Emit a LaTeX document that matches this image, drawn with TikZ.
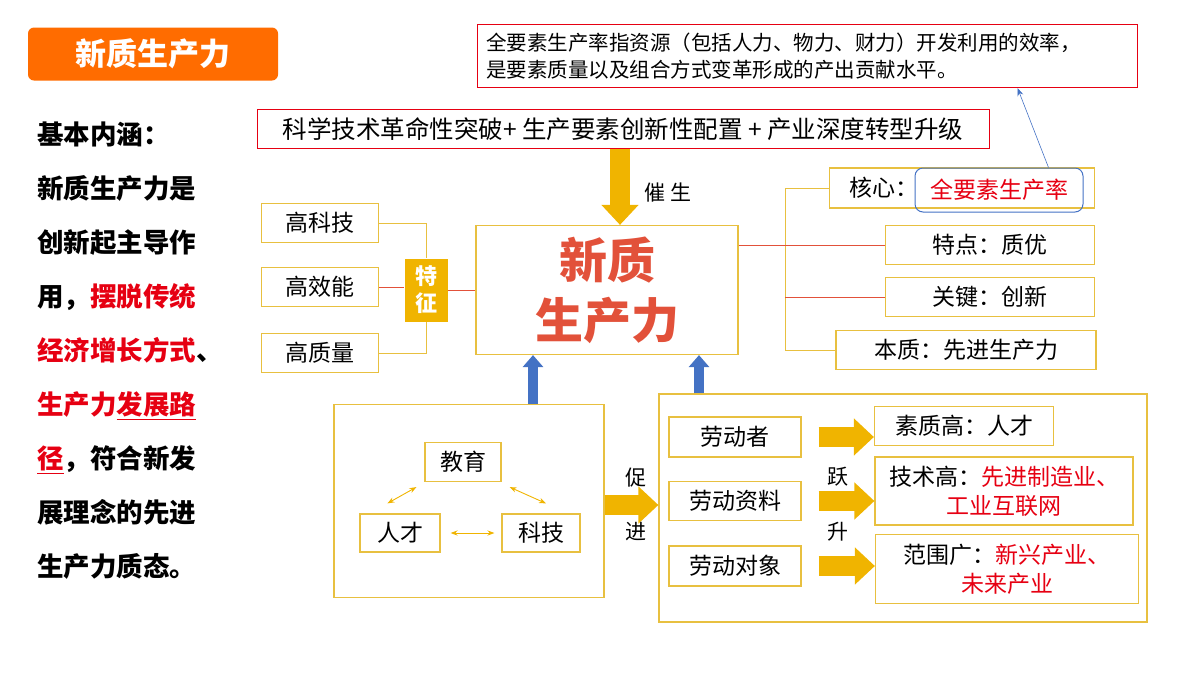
\documentclass[tikz,border=0pt]{standalone}
\usepackage{fontspec}
\setmainfont{Noto Sans CJK SC}
\usetikzlibrary{arrows.meta,positioning}
\definecolor{gold}{HTML}{F0B400}
\definecolor{edge}{HTML}{E8C040}
\definecolor{hot}{HTML}{E60012}
\definecolor{brick}{HTML}{E2513A}
\definecolor{steel}{HTML}{4472C4}
\tikzset{
  ybox/.style={draw=edge, line width=1.2pt, inner sep=0pt, minimum height=39pt, font=\fontsize{23}{27}\selectfont},
  rbox/.style={draw=hot, line width=1pt, inner sep=0pt},
  fat/.style={draw=gold, line width=20pt, -{Triangle[length=20pt,width=36pt]}},
  thin/.style={draw=steel, line width=10pt, -{Triangle[length=12pt,width=20pt]}},
  link/.style={draw=edge, line width=1pt},
  redlink/.style={draw=brick, line width=0.8pt},
  dual/.style={draw=gold, line width=0.9pt, {Stealth[length=7pt]}-{Stealth[length=7pt]}}
}
\begin{document}
\begin{tikzpicture}[x=1pt,y=-1pt]
    \useasboundingbox (0,0) rectangle (1200,675);
    % Title
    \node[fill=orange!85!red, rounded corners=6pt, minimum width=250pt, minimum height=53pt, text=white,
      font=\fontsize{31}{31}\selectfont\bfseries] (title) at (153,54) {新质生产力};

    % Left text
    \node[anchor=north west, align=left, inner sep=0pt, font=\fontsize{26.5}{54}\selectfont\bfseries] (intro) at (37,122)
      {基本内涵：\\新质生产力是\\创新起主导作\\用，\textcolor{hot}{摆脱传统}\\\textcolor{hot}{经济增长方式}、\\
       \textcolor{hot}{生产力\underline{发展路}}\\\textcolor{hot}{\underline{径}}，符合新发\\展理念的先进\\生产力质态。};

    % Top note
    \node[rbox, minimum width=660pt, minimum height=63pt, text width=642pt, align=left,
      font=\fontsize{20.5}{27}\selectfont] (note) at (807,56)
      {全要素生产率指资源（包括人力、物力、财力）开发利用的效率，\\是要素质量以及组合方式变革形成的产出贡献水平。};
    \node[rbox, minimum width=732pt, minimum height=39pt, font=\fontsize{24.5}{26}\selectfont] (formula) at (623,129)
      {科学技术革命性突破+ 生产要素创新性配置 + 产业深度转型升级};

    % Centre
    \node[draw=edge, line width=1.2pt, minimum width=262pt, minimum height=129pt, align=center, text=brick,
      font=\fontsize{48}{60}\selectfont\bfseries] (core) at (607,290) {新质\\生产力};
    \draw[fat] (formula.south -| 620,0) -- (core.north -| 620,0);
    \node[font=\fontsize{21}{21}\selectfont] (cuisheng) at (668,193) {催 生};

    % Features
    \node[ybox, minimum width=117pt] (f1) at (320,223) {高科技};
    \node[ybox, minimum width=117pt] (f2) at (320,287) {高效能};
    \node[ybox, minimum width=117pt] (f3) at (320,353) {高质量};
    \node[fill=gold, minimum width=43pt, minimum height=63pt, align=center, text=white, inner sep=0pt,
      font=\fontsize{22}{27}\selectfont\bfseries] (tezheng) at (426,290) {特\\征};
    \draw[link] (f1.east) -| (tezheng.north);
    \draw[link] (f3.east) -| (tezheng.south);
    \draw[redlink] (f2.east) -- (f2.east -| tezheng.west);
    \draw[redlink] (tezheng.east) -- (tezheng.east -| core.west);

    % Right side
    \node[ybox, minimum width=265pt, minimum height=40pt] (k1) at (962,188) {};
    \node[anchor=west, font=\fontsize{23}{27}\selectfont] (hexin) at (846,188) {核心：};
    \node[draw=steel, line width=1pt, rounded corners=8pt, minimum width=168pt, minimum height=44pt, text=hot,
      font=\fontsize{23}{27}\selectfont] (tfp) at (999,190) {全要素生产率};
    \node[ybox, minimum width=209pt] (k2) at (990,245) {特点：质优};
    \node[ybox, minimum width=209pt] (k3) at (990,297) {关键：创新};
    \node[ybox, minimum width=260pt] (k4) at (966,350) {本质：先进生产力};
    \coordinate (trunk) at (785,188);
    \draw[link] (k1.west) -- (trunk) -- (trunk |- k4.west) -- (k4.west);
    \draw[redlink] (core.east |- k2.west) -- (k2.west);
    \draw[redlink] (trunk |- k3.west) -- (k3.west);
    \draw[steel, line width=0.6pt, -{Stealth[length=8pt]}] ([xshift=-35pt]tfp.north east) -- ([xshift=-120pt]note.south east);

    % Lower left
    \node[draw=edge, line width=1.2pt, minimum width=270pt, minimum height=193pt] (loop) at (469,501) {};
    \node[ybox, minimum width=76pt] (edu) at (463,462) {教育};
    \node[ybox, minimum width=80pt, minimum height=38pt] (talent) at (400,533) {人才};
    \node[ybox, minimum width=78pt, minimum height=38pt] (tech) at (541,533) {科技};
    \draw[dual] ([shift={(-8,5)}]edu.south west) -- ([shift={(28,-10)}]talent.north west);
    \draw[dual] ([shift={(8,5)}]edu.south east) -- ([shift={(5,-10)}]tech.north);
    \draw[dual] ([xshift=10pt]talent.east) -- ([xshift=-7pt]tech.west);
    \draw[thin] (loop.north -| 533,0) -- (core.south -| 533,0);

    % Lower right
    \node[draw=edge, line width=1.2pt, minimum width=488pt, minimum height=228pt] (labour) at (903,508) {};
    \draw[thin] (labour.north -| 699,0) -- (core.south -| 699,0);
    \draw[fat] (loop.east |- 0,505) -- (labour.west |- 0,505);
    \node[font=\fontsize{21}{21}\selectfont] (cu) at (636,478) {促};
    \node[font=\fontsize{21}{21}\selectfont] (jin) at (636,532) {进};
    \node[ybox, minimum width=132pt, minimum height=40pt] (l1) at (735,437) {劳动者};
    \node[ybox, minimum width=132pt] (l2) at (735,501) {劳动资料};
    \node[ybox, minimum width=132pt, minimum height=40pt] (l3) at (735,566) {劳动对象};
    \node[ybox, minimum width=179pt] (r1) at (964,426) {素质高：人才};
    \node[ybox, minimum width=258pt, minimum height=68pt, align=center, font=\fontsize{23}{29}\selectfont] (r2) at (1004,491)
      {技术高：\textcolor{hot}{先进制造业、}\\\textcolor{hot}{工业互联网}};
    \node[ybox, minimum width=263pt, minimum height=69pt, align=center, font=\fontsize{23}{29}\selectfont] (r3) at (1007,569)
      {范围广：\textcolor{hot}{新兴产业、}\\\textcolor{hot}{未来产业}};
    \draw[fat] ([xshift=17pt]l1.east) -- (r1.west |- l1.east);
    \draw[fat] ([xshift=17pt]l2.east) -- (r2.west |- l2.east);
    \draw[fat] ([xshift=17pt]l3.east) -- (r3.west |- l3.east);
    \node[font=\fontsize{21}{21}\selectfont] (yue) at (838,477) {跃};
    \node[font=\fontsize{21}{21}\selectfont] (sheng) at (838,532) {升};
\end{tikzpicture}
\end{document}
